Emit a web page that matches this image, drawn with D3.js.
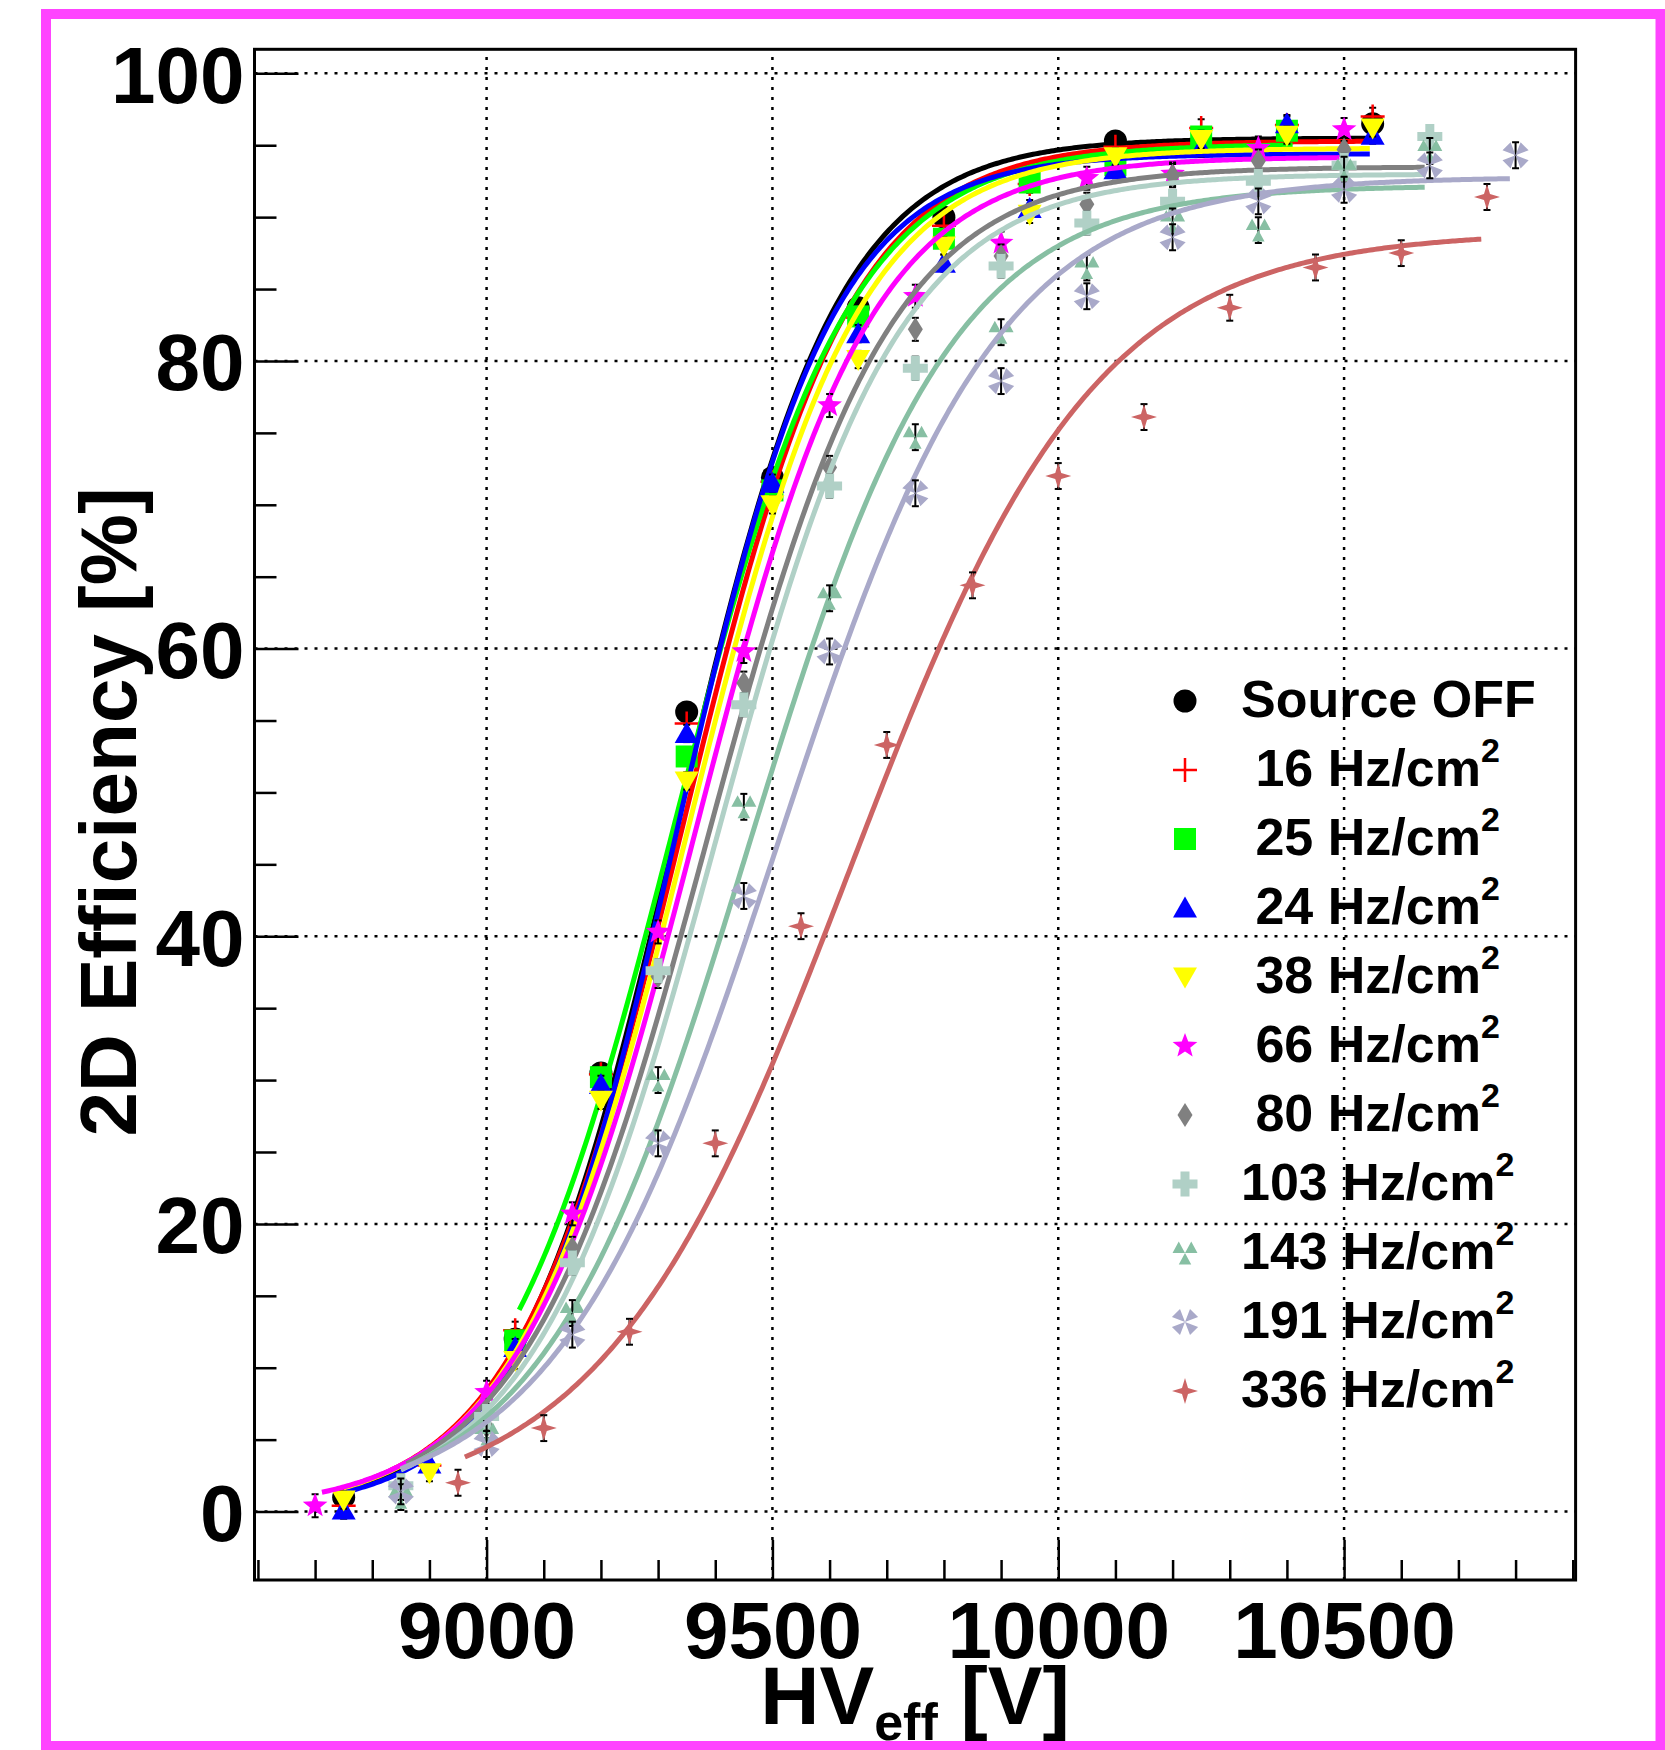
<!DOCTYPE html>
<html>
<head>
<meta charset="utf-8">
<script src="https://cdn.jsdelivr.net/npm/d3@7"></script>
<style>
  body { margin: 0; background: #fff; }
  svg { display: block; }
  text { font-family: "Liberation Sans", Arial, Helvetica, sans-serif; font-weight: bold; fill: #000; }
</style>
</head>
<body>
<svg id="chart" width="1665" height="1750"></svg>
<script>
// ---- data ----
let rates = [null, 16, 25, 24, 38, 66, 80, 103, 143, 191, 336];

let hvOff  = [8750, 9050, 9200, 9350, 9500, 9650, 9800, 10100, 10550];
let effOff = [1.0, 12.0, 30.5, 55.6, 71.9, 83.7, 90.0, 95.3, 96.5];

let hv16  = [8750, 8900, 9050, 9200, 9350, 9500, 9650, 9800, 9950, 10100, 10250, 10400, 10550];
let eff16 = [0.4, 3.2, 12.6, 30.4, 54.8, 71.6, 83.0, 89.4, 92.3, 94.9, 96.2, 96.4, 97.0];

let hv25  = [9050, 9200, 9350, 9500, 9650, 9800, 9950, 10100, 10250, 10400];
let eff25 = [11.9, 30.2, 52.5, 71.0, 83.1, 88.5, 92.4, 93.6, 95.6, 96.0];

let hv24  = [8750, 8900, 9050, 9200, 9350, 9500, 9650, 9800, 9950, 10100, 10250, 10400, 10550];
let eff24 = [0.1, 3.3, 11.4, 29.7, 54.1, 71.5, 81.9, 86.8, 90.6, 93.3, 94.8, 96.5, 95.7];

let hv38  = [8750, 8900, 9050, 9200, 9350, 9500, 9650, 9800, 9950, 10100, 10250, 10400, 10550];
let eff38 = [0.8, 2.7, 10.5, 28.6, 50.8, 70.0, 80.1, 88.0, 90.2, 94.2, 95.4, 95.7, 96.2];

let hv66  = [8700, 9000, 9150, 9300, 9450, 9600, 9750, 9900, 10050, 10200, 10350, 10500];
let eff66 = [0.4, 8.3, 20.7, 40.3, 59.8, 76.9, 84.5, 88.2, 92.7, 93.0, 94.8, 96.1];

let hv80  = [8850, 9000, 9150, 9300, 9450, 9600, 9750, 9900, 10050, 10200, 10350, 10500];
let eff80 = [1.6, 5.9, 18.3, 37.2, 57.6, 72.6, 82.2, 87.3, 90.9, 92.9, 93.9, 94.7];

let hv103  = [8850, 9000, 9150, 9300, 9450, 9600, 9750, 9900, 10050, 10200, 10350, 10500, 10650];
let eff103 = [1.8, 6.6, 17.3, 37.6, 56.1, 71.3, 79.5, 86.6, 89.6, 91.1, 92.5, 93.6, 95.6];

let hv143  = [8850, 9000, 9150, 9300, 9450, 9600, 9750, 9900, 10050, 10200, 10350, 10500, 10650];
let eff143 = [1.0, 5.4, 13.8, 30.0, 49.0, 63.5, 74.7, 82.0, 86.5, 89.7, 89.1, 93.3, 94.6];

let hv191  = [8850, 9000, 9150, 9300, 9450, 9600, 9750, 9900, 10050, 10200, 10350, 10500, 10650, 10800];
let eff191 = [1.4, 4.7, 12.3, 25.6, 42.8, 59.8, 70.8, 78.6, 84.5, 88.6, 91.1, 91.9, 93.6, 94.3];

let hv336  = [8950, 9100, 9250, 9400, 9550, 9700, 9850, 10000, 10150, 10300, 10450, 10600, 10750];
let eff336 = [2.0, 5.8, 12.5, 25.6, 40.7, 53.3, 64.4, 72.0, 76.1, 83.7, 86.5, 87.5, 91.4];

let errBar = [0.6, 0.6, 0.6, 0.6, 0.6, 0.8, 0.8, 0.8, 0.9, 0.9, 0.9];

// sigmoid fit parameters: plateau / (1 + exp(-slope*(HV - hv50)))
let plateau = [95.5, 95.3, 95.1, 94.4, 94.8, 94.2, 93.5, 93.0, 92.2, 92.8, 89.0];
let slope   = [0.0071, 0.0068, 0.0065, 0.0073, 0.0067, 0.0065, 0.00627, 0.00625, 0.0056, 0.00517, 0.00463];
let hv50    = [9333, 9343, 9327, 9332, 9352, 9364, 9386, 9400, 9457, 9509, 9634];
let fitFrom = [8740, 8745, 9057, 8750, 8750, 8712, 8860, 8850, 8855, 8850, 8962];
let fitTo   = [10540, 10540, 10410, 10545, 10545, 10492, 10641, 10641, 10641, 10790, 10740];

let xTicksMajor = [9000, 9500, 10000, 10500];
let yTicksMajor = [0, 20, 40, 60, 80, 100];

// ---- styles ----
let colors = ["#000000", "#ff0000", "#00ff00", "#0000ff", "#ffff00", "#ff00ff",
              "#808080", "#b0d0c6", "#87bfa3", "#a9a9c9", "#cc6464"];
let markers = ["circle", "plus", "square", "triUp", "triDown", "star5",
               "diamond", "cross", "threeTri", "fourX", "star4"];

let hvs  = [hvOff, hv16, hv25, hv24, hv38, hv66, hv80, hv103, hv143, hv191, hv336];
let effs = [effOff, eff16, eff25, eff24, eff38, eff66, eff80, eff103, eff143, eff191, eff336];

let series = rates.map((r, i) => ({
  rate: r,
  color: colors[i],
  marker: markers[i],
  err: errBar[i],
  fit: {p: plateau[i], k: slope[i], h: hv50[i], from: fitFrom[i], to: fitTo[i]},
  points: hvs[i].map((v, j) => ({hv: v, eff: effs[i][j]}))
}));

let svg = d3.select("#chart");

let x = d3.scaleLinear().domain([8594, 10905]).range([254.5, 1575.6]);
let y = d3.scaleLinear().domain([-4.76, 101.67]).range([1580, 49.3]);

// outer magenta frame
svg.append("rect")
  .attr("x", 46).attr("y", 14)
  .attr("width", 1614.5).attr("height", 1732)
  .attr("fill", "none").attr("stroke", "#ff44ff").attr("stroke-width", 10);

// grid
let grid = svg.append("g").attr("stroke", "#000").attr("stroke-width", 2.5)
  .attr("stroke-dasharray", "3 7");
grid.selectAll(".gx").data(xTicksMajor).enter().append("line")
  .attr("x1", d => x(d)).attr("x2", d => x(d))
  .attr("y1", y.range()[0]).attr("y2", y.range()[1]);
grid.selectAll(".gy").data(yTicksMajor).enter().append("line")
  .attr("y1", d => y(d)).attr("y2", d => y(d))
  .attr("x1", x.range()[0]).attr("x2", x.range()[1]);

// axes
let xMinor = d3.range(8600, 10901, 100).filter(v => xTicksMajor.indexOf(v) < 0);
let yMinor = d3.range(0, 101, 5).filter(v => yTicksMajor.indexOf(v) < 0);

svg.append("g").attr("transform", "translate(0," + y.range()[0] + ")")
  .call(d3.axisBottom(x).tickValues(xMinor).tickSizeInner(-20).tickSizeOuter(0).tickFormat(""));
let gx = svg.append("g").attr("transform", "translate(0," + y.range()[0] + ")")
  .call(d3.axisBottom(x).tickValues(xTicksMajor).tickSizeInner(-40).tickSizeOuter(0).tickFormat(d3.format("d")));
gx.selectAll("text").attr("y", 78).attr("dy", 0).style("font-size", "80px");

svg.append("g").attr("transform", "translate(" + x.range()[0] + ",0)")
  .call(d3.axisLeft(y).tickValues(yMinor).tickSizeInner(-22).tickSizeOuter(0).tickFormat(""));
let gy = svg.append("g").attr("transform", "translate(" + x.range()[0] + ",0)")
  .call(d3.axisLeft(y).tickValues(yTicksMajor).tickSizeInner(-44).tickSizeOuter(0).tickFormat(d3.format("d")));
gy.selectAll("text").attr("x", -10).attr("dy", "0.36em").style("font-size", "80px");

svg.selectAll(".domain").remove();
svg.selectAll(".tick line").attr("stroke", "#000").attr("stroke-width", 2.5);
svg.selectAll(".tick text").style("font-family", "'Liberation Sans', Arial, sans-serif")
  .style("font-weight", "bold").attr("fill", "#000");

// marker paths
function markerPath(type) {
  switch (type) {
    case "triUp":   return "M0,-11.5L12,9.5L-12,9.5Z";
    case "triDown": return "M0,11.5L12,-9.5L-12,-9.5Z";
    case "square":  return "M-11,-11H11V11H-11Z";
    case "diamond": return "M0,-12L7.5,0L0,12L-7.5,0Z";
    case "cross":   return "M-4.5,-12.5H4.5V-4.5H12.5V4.5H4.5V12.5H-4.5V4.5H-12.5V-4.5H-4.5Z";
    case "star4":   return "M0,-13L3,-3L13,0L3,3L0,13L-3,3L-13,0L-3,-3Z";
    case "threeTri":
      return "M0,0L-12.5,0L-6.25,-11.5Z M0,0L12.5,0L6.25,-11.5Z M0,0L-6.25,11.5L6.25,11.5Z";
    case "fourX": {
      let p = "", s = 14;
      [45, 135, 225, 315].forEach(a => {
        let r = a * Math.PI / 180, w = 0.42;
        p += "M0,0L" + (s * Math.cos(r - w)).toFixed(2) + "," + (s * Math.sin(r - w)).toFixed(2) +
             "L" + (s * Math.cos(r + w)).toFixed(2) + "," + (s * Math.sin(r + w)).toFixed(2) + "Z";
      });
      return p;
    }
    case "star5": {
      let pts = [];
      for (let i = 0; i < 10; i++) {
        let rr = i % 2 === 0 ? 13 : 5.5;
        let a = -Math.PI / 2 + i * Math.PI / 5;
        pts.push((rr * Math.cos(a)).toFixed(2) + "," + (rr * Math.sin(a)).toFixed(2));
      }
      return "M" + pts.join("L") + "Z";
    }
  }
  return "";
}

function drawMarker(g, type, color) {
  if (type === "circle") {
    g.append("circle").attr("r", 11.5).attr("fill", color);
  } else if (type === "plus") {
    g.append("path").attr("d", "M-12,0H12M0,-12V12")
      .attr("stroke", color).attr("stroke-width", 2.5).attr("fill", "none");
  } else {
    g.append("path").attr("d", markerPath(type)).attr("fill", color);
  }
}

// plot area clip
svg.append("clipPath").attr("id", "plotclip").append("rect")
  .attr("x", x.range()[0]).attr("y", y.range()[1])
  .attr("width", x.range()[1] - x.range()[0]).attr("height", y.range()[0] - y.range()[1]);

let plot = svg.append("g").attr("clip-path", "url(#plotclip)");
let line = d3.line().x(d => x(d[0])).y(d => y(d[1]));

series.forEach(s => {
  let f = s.fit;
  let curve = d3.range(f.from, f.to, 4).concat([f.to])
    .map(v => [v, f.p / (1 + Math.exp(-f.k * (v - f.h)))]);
  let g = plot.append("g");
  g.append("path").datum(curve).attr("d", line)
    .attr("fill", "none").attr("stroke", s.color).attr("stroke-width", 5);

  // error bars (under markers)
  let eb = g.selectAll(".eb").data(s.points).enter().append("g")
    .attr("stroke", "#000").attr("stroke-width", 2);
  eb.append("line")
    .attr("x1", d => x(d.hv)).attr("x2", d => x(d.hv))
    .attr("y1", d => y(d.eff - s.err)).attr("y2", d => y(d.eff + s.err));
  eb.append("line")
    .attr("x1", d => x(d.hv) - 3.5).attr("x2", d => x(d.hv) + 3.5)
    .attr("y1", d => y(d.eff - s.err)).attr("y2", d => y(d.eff - s.err));
  eb.append("line")
    .attr("x1", d => x(d.hv) - 3.5).attr("x2", d => x(d.hv) + 3.5)
    .attr("y1", d => y(d.eff + s.err)).attr("y2", d => y(d.eff + s.err));

  let pts = g.selectAll(".pt").data(s.points).enter().append("g")
    .attr("transform", d => "translate(" + x(d.hv) + "," + y(d.eff) + ")");
  pts.each(function () { drawMarker(d3.select(this), s.marker, s.color); });
});

// frame
svg.append("rect")
  .attr("x", x.range()[0]).attr("y", y.range()[1])
  .attr("width", x.range()[1] - x.range()[0]).attr("height", y.range()[0] - y.range()[1])
  .attr("fill", "none").attr("stroke", "#000").attr("stroke-width", 3);

// axis titles
svg.append("text")
  .attr("transform", "translate(136,812) rotate(-90)")
  .attr("text-anchor", "middle")
  .style("font-size", "80px")
  .text("2D Efficiency [%]");

let xt = svg.append("text")
  .attr("x", (x.range()[0] + x.range()[1]) / 2).attr("y", 1724)
  .attr("text-anchor", "middle").style("font-size", "82px");
xt.append("tspan").text("HV");
xt.append("tspan").attr("dy", 16).style("font-size", "52px").text("eff");
xt.append("tspan").attr("dy", -16).text("\u00A0[V]");

// legend
let legY = d3.scalePoint().domain(d3.range(series.length)).range([701, 1391]);
let leg = svg.append("g");
series.forEach((s, i) => {
  let row = leg.append("g").attr("transform", "translate(0," + legY(i) + ")");
  let m = row.append("g").attr("transform", "translate(1185,0)");
  drawMarker(m, s.marker, s.color);
  let t = row.append("text").attr("x", 1241).attr("y", 16).style("font-size", "52px");
  if (s.rate === null) {
    t.text("Source OFF");
  } else {
    let lab = String(s.rate);
    while (lab.length < 3) lab = "\u00A0" + lab;
    t.append("tspan").text(lab + " Hz/cm");
    t.append("tspan").attr("dy", -24).style("font-size", "34px").text("2");
  }
});
</script>
</body>
</html>
